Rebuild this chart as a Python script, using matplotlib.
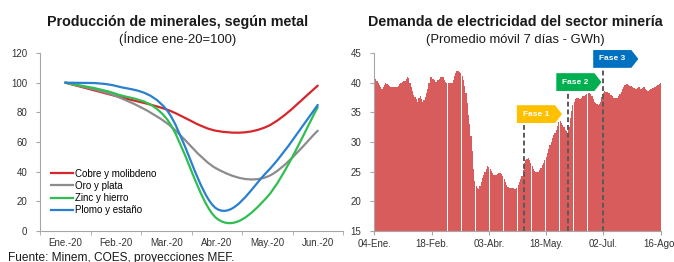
import numpy as np
import matplotlib
matplotlib.use("Agg")
import matplotlib.pyplot as plt
from matplotlib.path import Path
from matplotlib.patches import PathPatch, Polygon
from matplotlib.lines import Line2D

plt.rcParams['font.family'] = ['Liberation Sans', 'DejaVu Sans']

# --- left chart data (index ene-20 = 100) ---
months = ["Ene.-20", "Feb.-20", "Mar.-20", "Abr.-20", "May.-20", "Jun.-20"]
cobre = [100, 91, 82, 67.5, 70.5, 98]
oro = [100, 91, 73, 42, 36.6, 67.6]
zinc = [100, 92.5, 76, 8.5, 23, 83.5]
plomo = [100, 97.8, 82, 15, 40, 85]
series_names = ["Cobre y molibdeno", "Oro y plata", "Zinc y hierro", "Plomo y estaño"]
series_colors = ["#d7262b", "#8c8c8c", "#2fbf4f", "#2a7fcf"]

# --- right chart data: daily 7-day moving average, 04-Ene to 16-Ago (GWh) ---
demanda = [
    40.8, 40.6, 40.3, 39.9, 39.6, 39.2, 39.0, 39.2, 39.6, 40.0,
    39.8, 39.6, 39.4, 39.3, 39.2, 39.2, 39.2, 39.2, 39.3, 39.5,
    39.7, 39.9, 40.1, 40.2, 40.3, 40.6, 40.9, 40.8, 39.9, 39.2,
    38.6, 38.0, 37.6, 37.2, 36.8, 37.4, 37.8, 37.2, 36.8, 37.0,
    37.6, 38.3, 39.0, 40.0, 40.9, 41.0, 40.7, 40.4, 40.1, 40.1,
    40.4, 40.7, 40.9, 41.0, 40.9, 40.4, 40.1, 39.9, 39.9, 39.9,
    39.9, 40.0, 40.4, 41.2, 41.7, 41.9, 41.9, 41.8, 41.6, 41.2,
    40.5, 39.5, 38.2, 36.5, 34.5, 33.0, 31.0, 28.5, 25.5, 23.5,
    22.6, 22.2, 22.1, 22.6, 23.3, 23.9, 24.5, 25.0, 25.5, 25.9,
    25.8, 25.5, 25.1, 24.8, 24.5, 24.5, 24.5, 24.6, 24.7, 24.7,
    24.6, 24.3, 23.8, 23.3, 22.8, 22.5, 22.3, 22.2, 22.2, 22.2,
    22.1, 22.1, 22.3, 22.7, 23.3, 23.8, 24.3, 25.2, 26.5, 27.0,
    27.2, 27.3, 27.0, 26.5, 26.0, 25.5, 25.1, 24.9, 24.9, 25.0,
    25.3, 25.7, 26.1, 26.5, 27.0, 27.5, 28.2, 28.9, 29.5, 30.0,
    30.6, 31.1, 31.6, 32.1, 32.7, 33.3, 33.5, 33.2, 32.8, 32.5,
    32.1, 31.8, 31.6, 32.5, 34.0, 35.3, 36.2, 36.8, 37.3, 37.5,
    37.4, 37.3, 37.3, 37.5, 37.7, 37.8, 38.0, 38.1, 38.2, 38.2,
    38.1, 37.7, 37.2, 36.8, 36.6, 36.4, 36.3, 36.4, 36.7, 37.6,
    38.3, 38.6, 38.5, 38.4, 38.2, 38.2, 38.0, 37.7, 37.5, 37.4,
    37.4, 37.5, 37.7, 38.1, 38.5, 38.9, 39.3, 39.6, 39.7, 39.7,
    39.6, 39.5, 39.4, 39.3, 39.1, 39.0, 39.0, 39.1, 39.2, 39.0,
    38.9, 39.1, 39.3, 39.0, 38.7, 38.6, 38.7, 38.9, 39.0, 39.1,
    39.2, 39.3, 39.4, 39.6, 39.8, 39.9,
]
date_labels = ["04-Ene.", "18-Feb.", "03-Abr.", "18-May.", "02-Jul.", "16-Ago."]
date_ticks = [0, 45, 90, 135, 180, 225]

# phases: label, start day, colour, flag position
fases = ["Fase 1", "Fase 2", "Fase 3"]
fase_dia = [117.5, 152, 180]
fase_color = ["#ffc000", "#00b050", "#0070c0"]
fase_box_x = [112, 143, 172]
fase_box_y = [33.2, 38.6, 42.5]

axis_col = "#a6a6a6"
text_col = "#333333"


def smooth_path(y):
    # excel-like smoothed line, drawn as cubic bezier segments
    pts = np.column_stack([np.arange(len(y)), y]).astype(float)
    n = len(pts)
    verts = [pts[0]]
    codes = [Path.MOVETO]
    for i in range(n - 1):
        p0 = pts[max(i - 1, 0)]
        p1 = pts[i]
        p2 = pts[i + 1]
        p3 = pts[min(i + 2, n - 1)]
        verts += [p1 + (p2 - p0) / 6, p2 - (p3 - p1) / 6, p2]
        codes += [Path.CURVE4] * 3
    return Path(verts, codes)


fig = plt.figure(figsize=(6.74, 2.62), dpi=100)

# ---------------- left chart ----------------
ax1 = fig.add_axes([40 / 674, 1 - 231 / 262, 303 / 674, 178 / 262])
for vals, col in zip([cobre, oro, zinc, plomo], series_colors):
    ax1.add_patch(PathPatch(smooth_path(vals), fill=False, edgecolor=col, lw=1.6,
                            capstyle='round'))
ax1.set_xlim(-0.5, 5.5)
ax1.set_ylim(0, 120)
ax1.set_yticks(range(0, 121, 20))
ax1.set_xticks(range(len(months)))
ax1.set_xticklabels(months)
ax1.set_xticks(np.arange(-0.5, 6, 1), minor=True)
ax1.tick_params(axis='x', which='major', length=0, pad=5, labelsize=7, labelcolor=text_col)
ax1.tick_params(axis='x', which='minor', length=3, color=axis_col, direction='out')
ax1.tick_params(axis='y', length=3, color=axis_col, labelsize=7, labelcolor=text_col, pad=6)
for s in ['top', 'right']:
    ax1.spines[s].set_visible(False)
for s in ['left', 'bottom']:
    ax1.spines[s].set_color(axis_col)
    ax1.spines[s].set_linewidth(0.8)

handles = [Line2D([], [], color=c, lw=1.6) for c in series_colors]
ax1.legend(handles, series_names, loc='upper left', bbox_to_anchor=(0.035, 0.35),
           frameon=False, fontsize=7, handlelength=2.3, handletextpad=0.2,
           labelspacing=0.22, borderpad=0, borderaxespad=0)

# ---------------- right chart ----------------
ax2 = fig.add_axes([374 / 674, 1 - 231 / 262, 287 / 674, 178 / 262])
dias = np.arange(len(demanda))
ax2.bar(dias, demanda, width=0.95, color="#d95c5c", edgecolor='none')
ax2.set_xlim(-0.3, 225.3)
ax2.set_ylim(15, 45)
ax2.set_yticks(range(15, 46, 5))
ax2.set_xticks(date_ticks)
ax2.set_xticklabels(date_labels)
ax2.tick_params(axis='x', length=3, color=axis_col, labelsize=7, labelcolor=text_col, pad=3)
ax2.tick_params(axis='y', length=3, color=axis_col, labelsize=7, labelcolor=text_col, pad=6)
for s in ['top', 'right']:
    ax2.spines[s].set_visible(False)
for s in ['left', 'bottom']:
    ax2.spines[s].set_color(axis_col)
    ax2.spines[s].set_linewidth(0.8)

for name, d, col, bx, by in zip(fases, fase_dia, fase_color, fase_box_x, fase_box_y):
    ax2.plot([d, d], [15, by], ls=(0, (2.5, 1.5)), color="#595959", lw=1.4, clip_on=False)
    h = 3.0
    poly = Polygon([[bx, by], [bx + 30, by], [bx + 35.5, by + h / 2],
                    [bx + 30, by + h], [bx, by + h]],
                   closed=True, facecolor=col, edgecolor='none', clip_on=False, zorder=5)
    ax2.add_patch(poly)
    ax2.text(bx + 15, by + h / 2, name, color='white', fontsize=6, fontweight='bold',
             ha='center', va='center', zorder=6, clip_on=False)

# ---------------- titles ----------------
fig.text(178 / 674, 1 - 26 / 262, "Producción de minerales, según metal", ha='center',
         va='baseline', fontsize=10.3, fontweight='bold', color='#1a1a1a')
fig.text(178 / 674, 1 - 43.5 / 262, "(Índice ene-20=100)", ha='center', va='baseline',
         fontsize=9.4, color='#1a1a1a')
fig.text(515 / 674, 1 - 26 / 262, "Demanda de electricidad del sector minería", ha='center',
         va='baseline', fontsize=10.3, fontweight='bold', color='#1a1a1a')
fig.text(515 / 674, 1 - 43.5 / 262, "(Promedio móvil 7 días - GWh)", ha='center',
         va='baseline', fontsize=9.4, color='#1a1a1a')

fig.text(8 / 674, 1 - 251.5 / 262, "Fuente: Minem, COES, proyecciones MEF.", ha='left',
         va='top', fontsize=8.6, color='#1a1a1a')

fig.savefig("out.png", dpi=100)
